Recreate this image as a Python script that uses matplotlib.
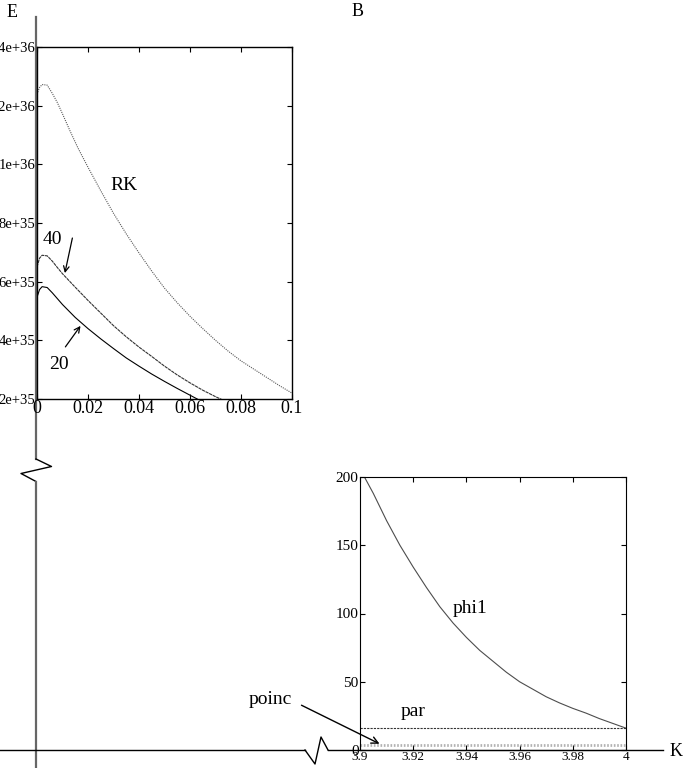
import matplotlib.pyplot as plt
from matplotlib.patches import FancyArrowPatch

plt.rcParams['font.family'] = ['Liberation Serif', 'DejaVu Serif']

# top panel: E versus small parameter, values in units of 1e35
rk_x = [0, 0.001, 0.002, 0.004, 0.006, 0.008, 0.01, 0.013, 0.016, 0.02, 0.025,
        0.03, 0.035, 0.04, 0.045, 0.05, 0.055, 0.06, 0.065, 0.07, 0.075,
        0.08, 0.085, 0.09, 0.095, 0.1]
rk = [12.39, 12.62, 12.72, 12.7, 12.42, 12.1, 11.72, 11.13, 10.57, 9.9, 9.1,
      8.33, 7.63, 6.98, 6.36, 5.78, 5.28, 4.82, 4.4, 4.0, 3.63,
      3.3, 3.02, 2.74, 2.46, 2.2]
n_x = [0, 0.001, 0.002, 0.004, 0.006, 0.008, 0.01, 0.015, 0.02, 0.025, 0.03,
       0.035, 0.04, 0.045, 0.05, 0.055, 0.06, 0.065, 0.07, 0.075]
n40 = [6.5, 6.8, 6.9, 6.88, 6.7, 6.48, 6.27, 5.81, 5.36, 4.93, 4.5,
       4.12, 3.77, 3.45, 3.12, 2.82, 2.55, 2.3, 2.08, 1.88]
n20 = [5.47, 5.73, 5.83, 5.8, 5.62, 5.42, 5.22, 4.78, 4.4, 4.05, 3.72,
       3.4, 3.12, 2.85, 2.6, 2.36, 2.13, 1.9, 1.7, 1.5]
top_yticks = [2, 4, 6, 8, 10, 12, 14]
top_ylabels = ['2e+35', '4e+35', '6e+35', '8e+35', '1e+36', '1.2e+36', '1.4e+36']
top_xticks = [0, 0.02, 0.04, 0.06, 0.08, 0.1]
top_xlabels = ['0', '0.02', '0.04', '0.06', '0.08', '0.1']

# bottom panel: versus K
k_vals = [3.90, 3.905, 3.91, 3.915, 3.92, 3.925, 3.93, 3.935, 3.94, 3.945, 3.95,
          3.955, 3.96, 3.965, 3.97, 3.975, 3.98, 3.985, 3.99, 3.995, 4.0]
phi1 = [206, 188, 168, 150, 134, 119, 105, 93, 82.5, 73, 65,
        57, 50, 44.5, 39, 34.5, 30.5, 27, 23, 19.5, 16]
par_level = 16
poinc_level = 3.7
bot_xticks = [3.9, 3.92, 3.94, 3.96, 3.98, 4.0]
bot_xlabels = ['3.9', '3.92', '3.94', '3.96', '3.98', '4']
bot_yticks = [0, 50, 100, 150, 200]

W, H = 683, 768
fig = plt.figure(figsize=(W / 100, H / 100), dpi=100)

# overlay in pixel coordinates for the schematic axes
ov = fig.add_axes([0, 0, 1, 1])
ov.set_xlim(0, W)
ov.set_ylim(H, 0)
ov.axis('off')

# big vertical axis with break
ov.plot([36, 36], [17, 459], color='0.4', lw=1.6)
ov.plot([36, 51.5, 21, 36], [459, 466.5, 473.5, 481.5], color='k', lw=1)
ov.plot([36, 36], [481.5, 768], color='0.4', lw=1.6)
# big horizontal axis with break
ov.plot([0, 305], [750, 750], color='k', lw=1)
ov.plot([305, 315, 321, 328], [750, 764, 737, 750], color='k', lw=1)
ov.plot([328, 663], [750, 750], color='k', lw=1)

ov.text(12.5, 12.5, 'E', fontsize=13, ha='center', va='center')
ov.text(357.5, 11, 'B', fontsize=13, ha='center', va='center')
ov.text(676, 752, 'K', fontsize=13, ha='center', va='center')

# top inset
ax1 = fig.add_axes([37 / W, 1 - 399 / H, 255 / W, 352 / H])
ax1.plot(rk_x, rk, color='0.35', lw=0.8, ls=(0, (1, 1)))
ax1.plot(n_x, n40, color='0.2', lw=0.8, ls=(0, (3, 0.6)))
ax1.plot(n_x, n20, color='k', lw=0.8)
ax1.set_xlim(0, 0.1)
ax1.set_ylim(2, 14)
ax1.set_xticks(top_xticks)
ax1.set_xticklabels(top_xlabels)
ax1.set_yticks(top_yticks)
ax1.set_yticklabels(top_ylabels)
ax1.tick_params(direction='in', top=True, right=True, length=3.6, pad=1)
ax1.tick_params(axis='x', labelsize=13)
ax1.tick_params(axis='y', labelsize=10.5)
for s in ax1.spines.values():
    s.set_linewidth(1)
ax1.text(0.034, 9.28, 'RK', fontsize=14, ha='center', va='center')
ax1.text(0.0059, 7.45, '40', fontsize=14, ha='center', va='center')
ax1.text(0.0085, 3.19, '20', fontsize=14, ha='center', va='center')
ax1.annotate('', xy=(0.0107, 6.2), xytext=(0.0141, 7.58),
             arrowprops=dict(arrowstyle='->', lw=0.9, color='k'))
ax1.annotate('', xy=(0.0177, 4.57), xytext=(0.0105, 3.7),
             arrowprops=dict(arrowstyle='->', lw=0.9, color='k'))

# bottom inset
ax2 = fig.add_axes([360 / W, 1 - 750 / H, 266 / W, 273 / H])
ax2.plot(k_vals, phi1, color='0.3', lw=0.8)
ax2.axhline(par_level, color='0.2', lw=0.8, ls=(0, (2, 1)))
ax2.axhline(poinc_level, color='0.7', lw=2, ls=(0, (0.6, 0.6)))
ax2.set_xlim(3.9, 4.0)
ax2.set_ylim(0, 200)
ax2.set_xticks(bot_xticks)
ax2.set_xticklabels(bot_xlabels)
ax2.set_yticks(bot_yticks)
ax2.tick_params(direction='in', top=True, right=True, length=3.6, pad=1)
ax2.tick_params(axis='x', labelsize=9.5)
ax2.tick_params(axis='y', labelsize=11)
ax2.patch.set_alpha(0)
ax2.text(3.9413, 104, 'phi1', fontsize=14, ha='center', va='center')
ax2.text(3.92, 28, 'par', fontsize=14, ha='center', va='center')

ov.text(270, 700, 'poinc', fontsize=14, ha='center', va='center')
ov.add_patch(FancyArrowPatch((299, 704), (382, 745), arrowstyle='->',
                             mutation_scale=12, lw=1, color='k'))

fig.savefig('out.png', dpi=100)
